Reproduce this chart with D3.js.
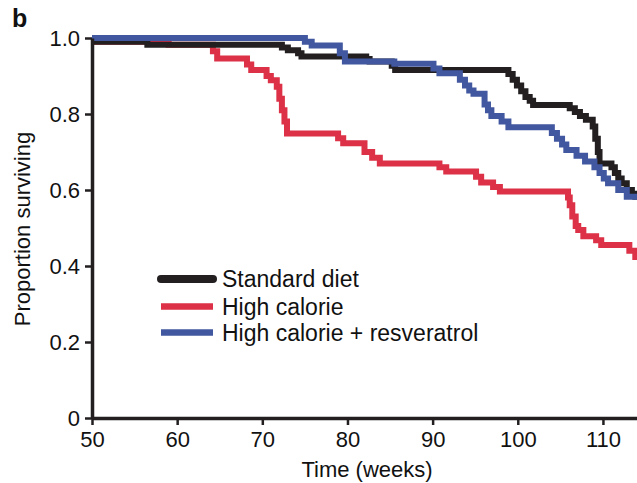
<!DOCTYPE html>
<html>
<head>
<meta charset="utf-8">
<script src="https://cdn.jsdelivr.net/npm/d3@7"></script>
<style>
  html, body { margin: 0; padding: 0; background: #fff; }
  svg { display: block; }
  text { font-family: "Liberation Sans", Arial, Helvetica, sans-serif; fill: #111; }
</style>
</head>
<body>
<svg id="chart" width="637" height="483"></svg>
<script>
// Kaplan-Meier survival: [week, proportion surviving after that week's events]
const standardDiet = [
  [50, 0.99], [56.5, 0.982], [72.3, 0.975], [73.0, 0.968], [74.2, 0.96], [74.6, 0.951],
  [82.2, 0.945], [82.6, 0.938], [85.2, 0.927], [85.6, 0.916], [98.9, 0.905], [99.4, 0.89],
  [99.9, 0.875], [100.4, 0.86], [100.9, 0.845], [101.4, 0.835], [101.8, 0.824],
  [106.1, 0.815], [106.7, 0.805], [107.3, 0.795], [108.0, 0.785], [108.8, 0.767],
  [109.1, 0.735], [109.4, 0.70], [109.6, 0.67], [111.0, 0.66], [111.4, 0.645],
  [111.8, 0.63], [112.2, 0.618], [112.8, 0.60], [113.4, 0.59], [113.8, 0.582]
];
const highCalorie = [
  [50, 0.99], [59, 0.982], [64.2, 0.965], [64.7, 0.946], [68.2, 0.93], [68.7, 0.916],
  [70.5, 0.90], [71.0, 0.889], [71.7, 0.872], [72.0, 0.84], [72.3, 0.81], [72.6, 0.78],
  [72.9, 0.749], [78.9, 0.736], [79.5, 0.723], [82.0, 0.70], [82.9, 0.685], [83.8, 0.670],
  [90.8, 0.66], [91.6, 0.649], [95.1, 0.635], [95.7, 0.620], [97.1, 0.608], [97.9, 0.596],
  [105.9, 0.58], [106.1, 0.56], [106.4, 0.53], [106.8, 0.505], [107.1, 0.495],
  [107.7, 0.478], [109.2, 0.468], [109.8, 0.455], [113.1, 0.44], [113.8, 0.424]
];
const highCalorieResveratrol = [
  [50, 1.0], [75, 0.99], [75.8, 0.98], [79.1, 0.96], [79.7, 0.938], [85.5, 0.932],
  [90.1, 0.92], [90.8, 0.907], [93.2, 0.89], [93.8, 0.875], [94.3, 0.862], [94.8, 0.853],
  [96.1, 0.825], [96.5, 0.81], [96.9, 0.795], [98.1, 0.78], [98.9, 0.765],
  [104.0, 0.75], [104.6, 0.735], [105.2, 0.72], [105.7, 0.705], [106.9, 0.69],
  [107.9, 0.675], [109.0, 0.66], [109.6, 0.645], [110.1, 0.63], [110.6, 0.618],
  [111.8, 0.60], [112.8, 0.582]
];

const seriesNames = ["Standard diet", "High calorie", "High calorie + resveratrol"];
const seriesColors = ["#231f20", "#dc3146", "#4157a0"];
const xTicks = [50, 60, 70, 80, 90, 100, 110];
const yTicks = [0, 0.2, 0.4, 0.6, 0.8, 1.0];
const yTickLabels = ["0", "0.2", "0.4", "0.6", "0.8", "1.0"];
const xMax = 114;

const svg = d3.select("#chart");
const x = d3.scaleLinear().domain([50, xMax]).range([92, 637]);
const y = d3.scaleLinear().domain([0, 1]).range([418, 38]);

// extend each survival curve to the end of the observed window
const withEnd = s => s.concat([[xMax, s[s.length - 1][1]]]);

const line = d3.line()
  .x(d => x(d[0]))
  .y(d => y(d[1]))
  .curve(d3.curveStepAfter);

const curves = [
  { data: standardDiet, color: seriesColors[0] },
  { data: highCalorie, color: seriesColors[1] },
  { data: highCalorieResveratrol, color: seriesColors[2] }
];

// draw order: red, black, blue
[1, 0, 2].forEach(i => {
  svg.append("path")
    .attr("d", line(withEnd(curves[i].data)))
    .attr("fill", "none")
    .attr("stroke", curves[i].color)
    .attr("stroke-width", 6)
    .attr("stroke-linejoin", "miter");
});

// axes
const xAxis = d3.axisBottom(x).tickValues(xTicks).tickSize(7).tickSizeOuter(0).tickPadding(6);
const yAxis = d3.axisLeft(y).tickValues(yTicks)
  .tickFormat((d, i) => yTickLabels[i]).tickSize(7).tickSizeOuter(0).tickPadding(5);

const gx = svg.append("g").attr("transform", "translate(0,418)").call(xAxis);
const gy = svg.append("g").attr("transform", "translate(92,0)").call(yAxis);

[gx, gy].forEach(g => {
  g.select(".domain").attr("stroke", "#231f20").attr("stroke-width", 3.5);
  g.selectAll(".tick line").attr("stroke", "#231f20").attr("stroke-width", 2.5);
  g.selectAll(".tick text")
    .attr("font-size", 22)
    .attr("font-family", "'Liberation Sans', Arial, sans-serif")
    .attr("fill", "#111");
});
gy.selectAll(".tick text").attr("dy", "0.36em");

// axis titles
svg.append("text")
  .attr("x", 367).attr("y", 477)
  .attr("text-anchor", "middle")
  .attr("font-size", 22)
  .text("Time (weeks)");

svg.append("text")
  .attr("transform", "translate(30,229) rotate(-90)")
  .attr("text-anchor", "middle")
  .attr("font-size", 22)
  .text("Proportion surviving");

// panel letter
svg.append("text")
  .attr("x", 12).attr("y", 27)
  .attr("font-size", 25)
  .attr("font-weight", "bold")
  .text("b");

// legend
const legendY = [279, 306.5, 332.5];
const legend = svg.append("g");
seriesNames.forEach((name, i) => {
  legend.append("line")
    .attr("x1", 161).attr("x2", 213)
    .attr("y1", legendY[i]).attr("y2", legendY[i])
    .attr("stroke", seriesColors[i])
    .attr("stroke-width", i === 0 ? 8 : 6.5)
    .attr("stroke-linecap", i === 0 ? "round" : "butt");
  legend.append("text")
    .attr("x", 222).attr("y", legendY[i])
    .attr("dy", "0.36em")
    .attr("font-size", 23)
    .text(name);
});
</script>
</body>
</html>
